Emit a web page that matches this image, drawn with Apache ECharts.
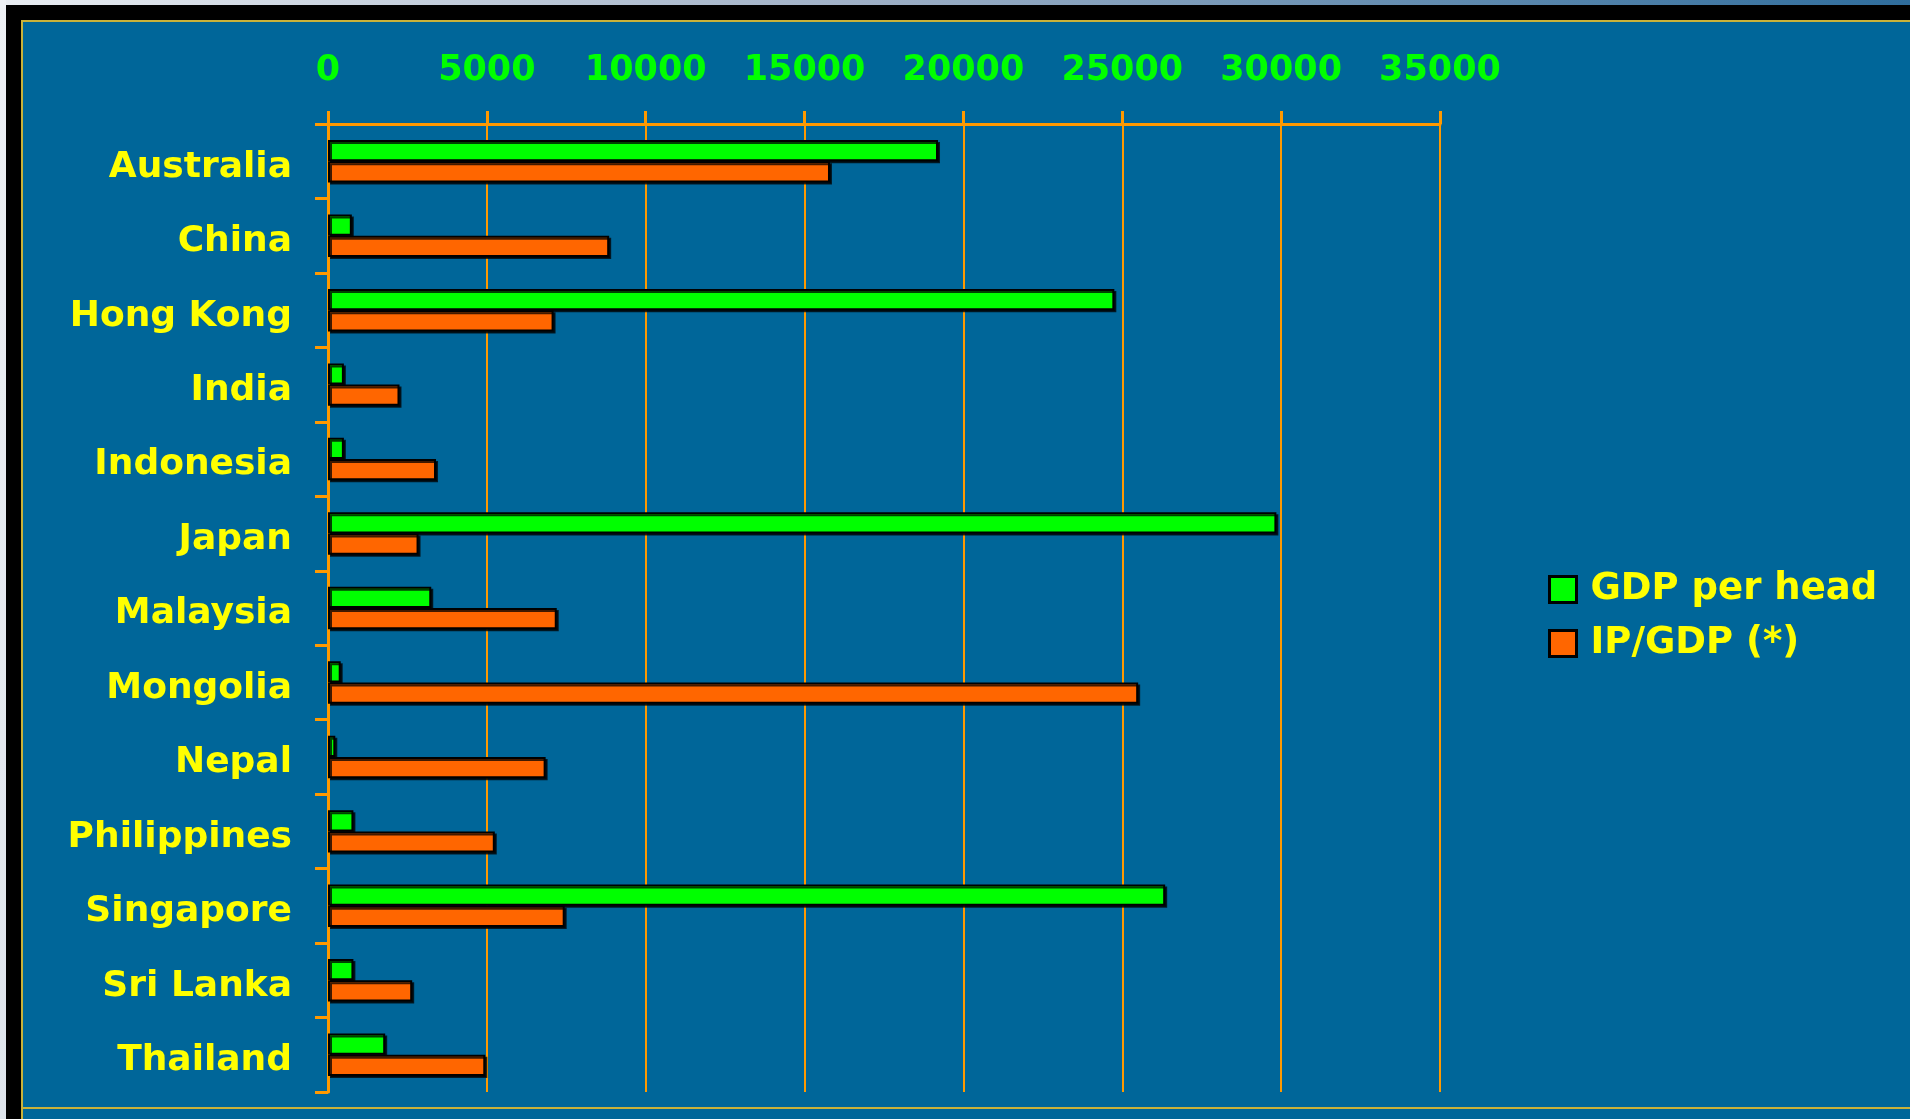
<!DOCTYPE html>
<html>
<head>
<meta charset="utf-8">
<title>GDP per head and IP/GDP</title>
<script src="https://cdn.jsdelivr.net/npm/echarts@6/dist/echarts.min.js"></script>
<style>
  html, body { margin: 0; padding: 0; width: 1916px; height: 1119px; overflow: hidden; background: #ffffff; }
  #topStrip { position: absolute; left: 0; top: 0; width: 1910px; height: 5px;
    background: linear-gradient(to right, #e9edf2 0%, #9fb0c6 45%, #2f6d9c 100%); }
  #leftStrip { position: absolute; left: 0; top: 0; width: 6px; height: 1119px;
    background: linear-gradient(to bottom, #eef1f5, #dfe5ec); }
  #outer { position: absolute; left: 6px; top: 5px; width: 1904px; height: 1114px; background: #000000; }
  #panel { position: absolute; left: 21px; top: 20px; width: 1889px; height: 1099px; background: #006699;
    box-sizing: border-box; border-top: 2px solid #c9b23a; border-left: 2px solid #c9b23a; }
  #goldBottom { position: absolute; left: 21px; top: 1107px; width: 1889px; height: 2px; background: #c9b23a; }
  #chart { position: absolute; left: 0; top: 0; width: 1916px; height: 1119px; }
</style>
</head>
<body>
<div id="topStrip"></div>
<div id="leftStrip"></div>
<div id="outer"></div>
<div id="panel"></div>
<div id="goldBottom"></div>
<div id="chart"></div>
<script>
// Countries, top to bottom
const countries = ['Australia', 'China', 'Hong Kong', 'India', 'Indonesia', 'Japan', 'Malaysia',
  'Mongolia', 'Nepal', 'Philippines', 'Singapore', 'Sri Lanka', 'Thailand'];

// GDP per head
const gdpPerHead = [19200, 750, 24750, 500, 500, 29850, 3250, 400, 230, 800, 26350, 800, 1800];

// IP/GDP (*)
const ipGdp = [15800, 8850, 7100, 2250, 3400, 2850, 7200, 25500, 6850, 5250, 7450, 2650, 4950];

const seriesNames = ['GDP per head', 'IP/GDP (*)'];

const FONT = '"DejaVu Sans", "Liberation Sans", Arial, sans-serif';
const ORANGE_LINE = '#ff9900';

const barStyle = (color) => ({
  color: color,
  borderColor: '#000000',
  borderWidth: 2,
  shadowColor: 'rgba(0,0,0,0.75)',
  shadowBlur: 0,
  shadowOffsetX: 2,
  shadowOffsetY: 2
});

const chart = echarts.init(document.getElementById('chart'), null, { renderer: 'canvas' });

chart.setOption({
  backgroundColor: 'transparent',
  animation: false,
  grid: { left: 328, top: 124, width: 1112, height: 968 },
  legend: {
    orient: 'vertical',
    left: 1543,
    top: 566,
    itemWidth: 27,
    itemHeight: 26,
    itemGap: 17,
    icon: 'rect',
    itemStyle: { borderColor: '#000000', borderWidth: 3 },
    textStyle: {
      color: '#ffff00', fontFamily: FONT, fontWeight: 'bold', fontSize: 37,
      padding: [0, 0, 0, 9]
    },
    data: seriesNames
  },
  xAxis: {
    type: 'value',
    position: 'top',
    min: 0,
    max: 35000,
    interval: 5000,
    axisLine: { show: true, lineStyle: { color: ORANGE_LINE, width: 3 } },
    axisTick: { show: true, length: 13, lineStyle: { color: ORANGE_LINE, width: 3 } },
    splitLine: { show: true, lineStyle: { color: ORANGE_LINE, width: 2 } },
    axisLabel: {
      color: '#00ff00', fontFamily: FONT, fontWeight: 'bold', fontSize: 35, margin: 36,
      formatter: (v) => String(v)
    }
  },
  yAxis: {
    type: 'category',
    inverse: true,
    data: countries,
    axisLine: { show: true, lineStyle: { color: ORANGE_LINE, width: 3 } },
    axisTick: { show: true, length: 13, lineStyle: { color: ORANGE_LINE, width: 3 } },
    splitLine: { show: false },
    axisLabel: {
      margin: 36,
      formatter: (v) => '{c|' + v + '}',
      rich: {
        c: {
          color: '#ffff00', fontFamily: FONT, fontWeight: 'bold', fontSize: 36,
          padding: [12, 0, 0, 0]
        }
      }
    }
  },
  series: [
    {
      name: seriesNames[0],
      type: 'bar',
      data: gdpPerHead,
      barGap: '0%',
      barCategoryGap: '43%',
      itemStyle: barStyle('#00ff00')
    },
    {
      name: seriesNames[1],
      type: 'bar',
      data: ipGdp,
      barGap: '0%',
      barCategoryGap: '43%',
      itemStyle: barStyle('#ff6600')
    }
  ]
});
</script>
</body>
</html>
